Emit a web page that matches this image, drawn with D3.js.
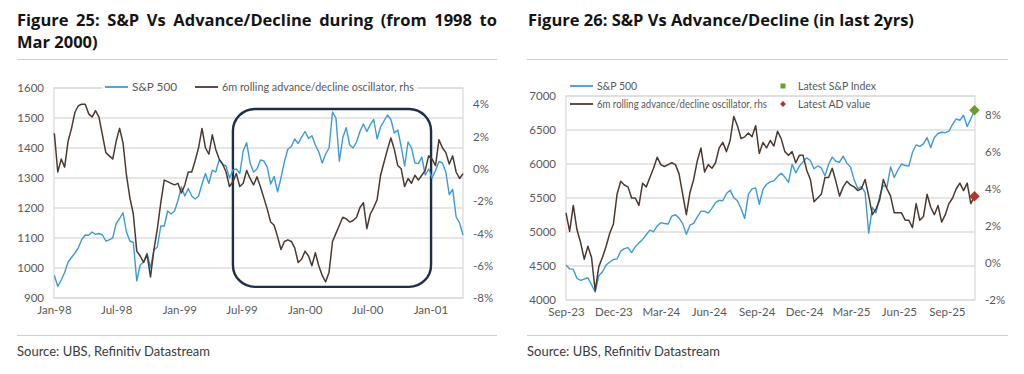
<html>
  <head>
    <meta charset="utf-8">
    <title>S&amp;P Vs Advance/Decline</title>
    <style>
      body {
        margin: 0;
        background: #fff;
        font-family: Lato, "Open Sans", sans-serif;
      }
      .title {
        position: absolute;
        width: 480px;
        font-family: "Open Sans", sans-serif;
        font-size: 16.5px;
        font-weight: bold;
        line-height: 22px;
        color: #141414;
        z-index: 2;
      }
      .title .full {
        text-align: justify;
        text-align-last: justify;
      }
      svg#viz {
        position: absolute;
        left: 0;
        top: 0;
      }
      .tick text {
        font-family: Lato, sans-serif;
        font-size: 11.5px;
        fill: #595959;
      }
    </style>
    <script src="https://d3js.org/d3.v7.min.js"></script>
  </head>
  <body>
    <div class="title" style="left:17px; top:9px;">
      <div class="full">Figure 25: S&amp;P Vs Advance/Decline during (from 1998 to</div>
      <div>Mar 2000)</div>
    </div>
    <div class="title" style="left:528px; top:9px;">
      <div>Figure 26: S&amp;P Vs Advance/Decline (in last 2yrs)</div>
    </div>
    <svg id="viz" width="1024" height="374"></svg>
    <script>
      // Figure 25: one point every 10 days from 2 Jan 1998
      const fig25Start = '1998-01-02';
      const fig25StepDays = 10;
      const fig25Spx = [
        975, 939, 960, 985, 1020, 1035, 1050, 1068, 1095, 1110,
        1109, 1120, 1112, 1115, 1110, 1090, 1094, 1100, 1148, 1165,
        1184, 1120, 1090, 1085, 957, 1010, 1020, 1049, 1000, 1060,
        1070, 1140, 1140, 1190, 1180, 1190, 1225, 1270, 1240, 1265,
        1240, 1230, 1240, 1280, 1315, 1282, 1326, 1320, 1360, 1345,
        1340, 1300, 1327, 1330, 1315, 1390, 1418, 1350, 1320, 1330,
        1360, 1357, 1336, 1280, 1305, 1254, 1300, 1355, 1396, 1405,
        1430, 1415, 1436, 1455, 1432, 1441, 1410, 1387, 1350, 1380,
        1400, 1520, 1500, 1356, 1435, 1468, 1410, 1400, 1420, 1456,
        1480, 1455, 1478, 1495, 1430, 1470, 1490, 1510, 1495, 1450,
        1460, 1405, 1340, 1420, 1400, 1350, 1348, 1370, 1310, 1330,
        1300, 1325, 1355, 1350, 1320, 1245, 1262, 1170, 1150, 1110
      ];
      // 6m rolling advance/decline oscillator, %
      const fig25Osc = [
        2.2, -0.2, 0.6, 0.1, 1.7, 2.5, 3.5, 3.9, 4.0, 4.0,
        3.4, 3.2, 3.6, 3.2, 2.1, 1.0, 0.8, 0.6, 1.7, 2.5,
        1.6, -0.4, -1.8, -2.8, -5.1, -5.4, -5.8, -5.3, -6.7, -5.0,
        -3.7, -2.1, -0.7, -0.8, -0.9, -1.0, -0.9, -1.5, -1.0, -0.2,
        -0.2, 0.5, 1.3, 2.5, 1.3, 0.9, 2.1, 1.2, 0.6, 0.3,
        -0.2, -1.1, -0.8, -0.3, -1.1, -0.9, -0.1, -0.6, -1.0, -0.5,
        -1.1, -1.8, -2.5, -3.3, -3.5, -4.2, -5.0, -4.5, -4.4, -4.5,
        -4.9, -5.8, -5.6, -5.1, -5.4, -6.0, -5.2, -6.0, -6.6, -7.0,
        -6.4, -4.5, -4.0, -3.5, -3.0, -3.1, -3.3, -3.2, -3.0, -2.4,
        -2.1, -3.7, -2.8, -2.4, -1.9, -0.4, 0.4, 1.2, 1.9, 1.2,
        0.2, 0.0, -1.1, -0.6, -0.9, -0.4, -0.7, -0.4, -0.1, 0.8,
        0.6, 0.2, 1.8, 1.3, 1.0, 0.3, 0.8, -0.2, -0.6, -0.3
      ];
      const fig25XTicks = ['1998-01-01', '1998-07-01', '1999-01-01', '1999-07-01',
                           '2000-01-01', '2000-07-01', '2001-01-01'];
      const fig25XEnd = '2001-04-06';
      const fig25YTicks = [900, 1000, 1100, 1200, 1300, 1400, 1500, 1600];
      const fig25RTicks = [-8, -6, -4, -2, 0, 2, 4];
      const fig25RMax = 5;
      // highlighted period (rounded box)
      const fig25BoxDates = ['1999-06-06', '2001-01-03'];
      const fig25BoxLevels = [937, 1530];

      // Figure 26: weekly from 1 Sep 2023
      const fig26Start = '2023-09-01';
      const fig26StepDays = 7;
      const fig26Spx = [
        4515, 4457, 4450, 4320, 4288, 4308, 4327, 4224, 4117, 4358,
        4415, 4514, 4559, 4595, 4604, 4719, 4755, 4770, 4697, 4784,
        4840, 4891, 4959, 5027, 5005, 5089, 5137, 5124, 5117, 5234,
        5254, 5204, 5123, 4967, 5100, 5128, 5223, 5303, 5305, 5278,
        5347, 5431, 5465, 5460, 5567, 5615, 5505, 5459, 5346, 5200,
        5554, 5635, 5648, 5408, 5626, 5702, 5738, 5751, 5815, 5864,
        5808, 5729, 5995, 5870, 5969, 6032, 6090, 6051, 5930, 5971,
        5942, 5827, 5997, 6101, 6041, 6026, 6115, 6013, 5955, 5770,
        5639, 5668, 5581, 4983, 5363, 5283, 5525, 5687, 5660, 5958,
        5802, 5912, 6000, 5977, 5968, 6173, 6279, 6260, 6297, 6389,
        6238, 6389, 6449, 6467, 6460, 6482, 6584, 6664, 6643, 6716,
        6552, 6664, 6791
      ];
      const fig26Osc = [
        2.7, 1.7, 3.1, 1.8, 1.1, 0.2, 0.9, 0.3, -1.5, -0.2,
        0.3, 0.9, 1.6, 2.1, 3.7, 4.4, 4.2, 4.1, 3.5, 3.5,
        3.1, 4.3, 4.1, 4.6, 5.1, 5.7, 5.3, 5.2, 5.3, 5.4,
        5.3, 4.8, 3.7, 2.6, 3.8, 4.5, 5.5, 6.2, 4.9, 5.3,
        5.1, 5.4, 6.2, 6.5, 6.0, 6.6, 7.9, 7.4, 6.7, 6.8,
        7.0, 6.8, 7.4, 5.9, 6.5, 6.2, 6.6, 6.3, 7.1, 6.7,
        6.0, 5.8, 6.0, 5.4, 5.8, 5.8, 5.0, 4.5, 3.3, 3.5,
        3.7, 4.6, 4.6, 5.1, 4.4, 3.6, 4.1, 4.4, 4.2, 4.1,
        3.9, 4.0, 4.5, 3.6, 2.6, 2.9, 3.4, 4.5, 4.0, 3.6,
        2.7, 2.7, 2.7, 2.3, 2.3, 1.9, 3.2, 2.3, 2.5, 3.7,
        3.0, 2.6, 3.1, 2.2, 2.6, 3.2, 3.5, 4.0, 4.3, 3.9,
        4.3, 3.2, 3.6
      ];
      const fig26XTicks = ['2023-09-01', '2023-12-01', '2024-03-01', '2024-06-01', '2024-09-01',
                           '2024-12-01', '2025-03-01', '2025-06-01', '2025-09-01'];
      const fig26XEnd = '2025-10-25';
      const fig26YTicks = [4000, 4500, 5000, 5500, 6000, 6500, 7000];
      const fig26RTicks = [-2, 0, 2, 4, 6, 8];
      const fig26RMax = 9;

      const spxColor = '#3d9ad6';
      const oscColor = '#4a3a31';
      const gridColor = '#dcdcdc';
      const textColor = '#595959';

      const parseDate = d3.utcParse('%Y-%m-%d');
      const svg = d3.select('#viz');

      function datesFrom(start, step, n) {
        const s = parseDate(start);
        return d3.range(n).map(i => d3.utcDay.offset(s, i * step));
      }

      function drawPanel(opts) {
        const g = svg.append('g');
        const dates = datesFrom(opts.start, opts.step, opts.spx.length);

        let x = d3.scaleUtc()
          .domain([parseDate(opts.xTicks[0]), parseDate(opts.xEnd)])
          .range([opts.left, opts.right]);
        let y = d3.scaleLinear()
          .domain([opts.yTicks[0], opts.yTicks[opts.yTicks.length - 1]])
          .range([opts.bottom, opts.top]);
        let yR = d3.scaleLinear()
          .domain([opts.rTicks[0], opts.rMax])
          .range([opts.bottom, opts.top]);

        // gridlines
        g.append('g').selectAll('line')
          .data(opts.yTicks)
          .join('line')
          .attr('x1', opts.left).attr('x2', opts.right)
          .attr('y1', d => y(d)).attr('y2', d => y(d))
          .attr('stroke', gridColor)
          .attr('stroke-width', 1.3);

        // plot frame
        g.append('rect')
          .attr('x', opts.left).attr('y', opts.top)
          .attr('width', opts.right - opts.left)
          .attr('height', opts.bottom - opts.top)
          .attr('fill', 'none')
          .attr('stroke', gridColor)
          .attr('stroke-width', 1.3);

        // axes (labels only)
        g.append('g')
          .attr('transform', `translate(0,${opts.bottom})`)
          .call(d3.axisBottom(x)
            .tickValues(opts.xTicks.map(parseDate))
            .tickFormat(d3.utcFormat('%b-%y'))
            .tickSize(0).tickPadding(8));
        g.append('g')
          .attr('transform', `translate(${opts.left},0)`)
          .call(d3.axisLeft(y).tickValues(opts.yTicks)
            .tickFormat(d3.format('d')).tickSize(0).tickPadding(10));
        g.append('g')
          .attr('transform', `translate(${opts.right},0)`)
          .call(d3.axisRight(yR).tickValues(opts.rTicks)
            .tickFormat(d => d + '%').tickSize(0).tickPadding(10));
        g.selectAll('.domain').remove();

        if (opts.box) {
          let bx0 = x(parseDate(opts.box.dates[0]));
          let bx1 = x(parseDate(opts.box.dates[1]));
          let by0 = y(opts.box.levels[1]);
          let by1 = y(opts.box.levels[0]);
          g.append('rect')
            .attr('x', bx0).attr('y', by0)
            .attr('width', bx1 - bx0).attr('height', by1 - by0)
            .attr('rx', 22).attr('ry', 22)
            .attr('fill', 'none')
            .attr('stroke', '#1d2e45')
            .attr('stroke-width', 2.4);
        }

        // series
        let lineSpx = d3.line()
          .x((d, i) => x(dates[i]))
          .y(d => y(d));
        let lineOsc = d3.line()
          .x((d, i) => x(dates[i]))
          .y(d => yR(d));

        g.append('path')
          .datum(opts.spx)
          .attr('d', lineSpx)
          .attr('fill', 'none')
          .attr('stroke', spxColor)
          .attr('stroke-width', 1.4)
          .attr('stroke-linejoin', 'round');
        g.append('path')
          .datum(opts.osc)
          .attr('d', lineOsc)
          .attr('fill', 'none')
          .attr('stroke', oscColor)
          .attr('stroke-width', 1.5)
          .attr('stroke-linejoin', 'round');

        return { g, x, y, yR, dates };
      }

      function legendLine(g, x0, yy, color, label, size, len) {
        g.append('line')
          .attr('x1', x0).attr('x2', x0 + 23)
          .attr('y1', yy).attr('y2', yy)
          .attr('stroke', color).attr('stroke-width', 1.8);
        let t = g.append('text')
          .attr('x', x0 + 27).attr('y', yy + 4)
          .attr('font-size', size)
          .attr('fill', textColor)
          .text(label);
        if (len) t.attr('textLength', len).attr('lengthAdjust', 'spacingAndGlyphs');
      }

      // ---- Figure 25 ----
      let p25 = drawPanel({
        start: fig25Start, step: fig25StepDays,
        spx: fig25Spx, osc: fig25Osc,
        xTicks: fig25XTicks, xEnd: fig25XEnd,
        yTicks: fig25YTicks, rTicks: fig25RTicks, rMax: fig25RMax,
        left: 54, right: 463, top: 88, bottom: 298,
        box: { dates: fig25BoxDates, levels: fig25BoxLevels }
      });
      let leg25 = svg.append('g');
      leg25.append('rect').attr('x', 102).attr('y', 80).attr('width', 316).attr('height', 14).attr('fill', '#fff');
      legendLine(leg25, 105, 87, spxColor, 'S&P 500', 11.8);
      legendLine(leg25, 195, 87, oscColor, '6m rolling advance/decline oscillator, rhs', 11.8, 192);

      // ---- Figure 26 ----
      let p26 = drawPanel({
        start: fig26Start, step: fig26StepDays,
        spx: fig26Spx, osc: fig26Osc,
        xTicks: fig26XTicks, xEnd: fig26XEnd,
        yTicks: fig26YTicks, rTicks: fig26RTicks, rMax: fig26RMax,
        left: 566, right: 975, top: 96, bottom: 300
      });
      let lastDate = p26.dates[p26.dates.length - 1];
      let diamond = d3.symbol().type(d3.symbolDiamond2);
      p26.g.append('path')
        .attr('d', diamond.size(70)())
        .attr('transform', `translate(${p26.x(lastDate)},${p26.y(fig26Spx[fig26Spx.length - 1])})`)
        .attr('fill', '#6f9a2e');
      p26.g.append('path')
        .attr('d', diamond.size(70)())
        .attr('transform', `translate(${p26.x(lastDate)},${p26.yR(fig26Osc[fig26Osc.length - 1])})`)
        .attr('fill', '#b8322a');

      let leg26 = svg.append('g');
      legendLine(leg26, 570, 86, spxColor, 'S&P 500', 10.5);
      legendLine(leg26, 570, 104, oscColor, '6m rolling advance/decline oscillator, rhs', 10.5, 170);
      leg26.append('rect')
        .attr('x', 780.5).attr('y', 83.5).attr('width', 5).attr('height', 5)
        .attr('fill', '#6f9a2e');
      leg26.append('text')
        .attr('x', 798).attr('y', 90).attr('font-size', 10.5).attr('fill', textColor)
        .text('Latest S&P Index');
      leg26.append('path')
        .attr('d', d3.symbol().type(d3.symbolDiamond2).size(22)())
        .attr('transform', 'translate(783,104)')
        .attr('fill', '#b8322a');
      leg26.append('text')
        .attr('x', 798).attr('y', 108).attr('font-size', 10.5).attr('fill', textColor)
        .text('Latest AD value');

      // separators and sources
      [[17, 497], [527, 1008]].forEach(([a, b]) => {
        svg.append('line').attr('x1', a).attr('x2', b).attr('y1', 59.5).attr('y2', 59.5)
          .attr('stroke', '#cfcfcf').attr('stroke-width', 1);
        svg.append('line').attr('x1', a).attr('x2', b).attr('y1', 335.5).attr('y2', 335.5)
          .attr('stroke', '#cfcfcf').attr('stroke-width', 1);
        svg.append('text').attr('x', a).attr('y', 356)
          .attr('font-size', 13).attr('fill', '#3a3a3a')
          .text('Source: UBS, Refinitiv Datastream');
      });
    </script>
  </body>
</html>
